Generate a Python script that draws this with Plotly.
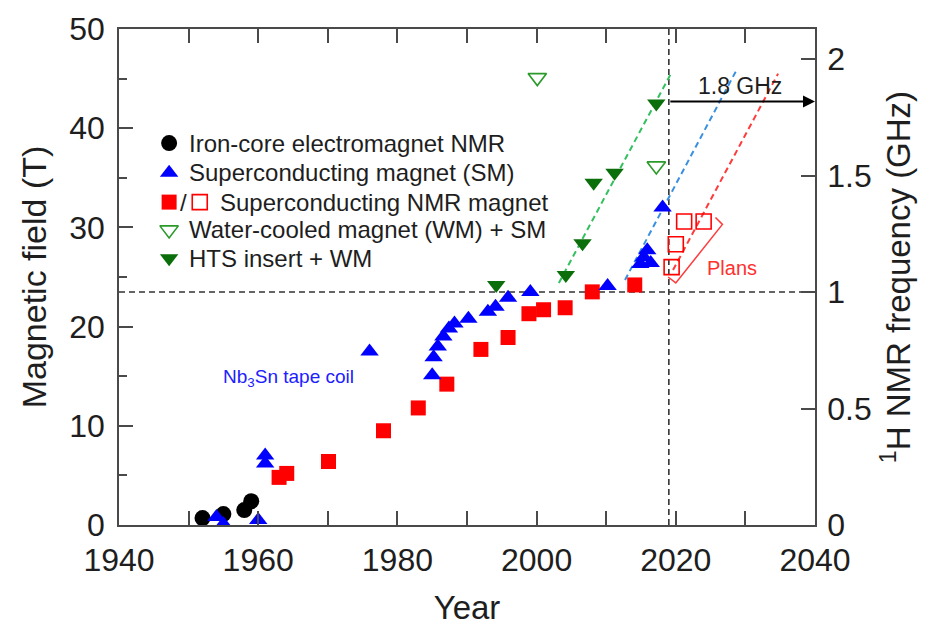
import plotly.graph_objects as go

# ---------------- data ----------------
iron_year = [1952, 1955, 1958, 1959]
iron_T = [0.7, 1.1, 1.5, 2.4]

sm_year = [1954, 1955, 1960, 1961, 1961, 1976, 1985.0, 1985.2, 1985.8, 1986.6, 1987.4,
           1988.2, 1990.2, 1993.0, 1994.1, 1995.9, 1999.1, 2010.2, 2014.9, 2015.4,
           2015.9, 2016.4, 2018.1]
sm_T = [0.8, 0.1, 0.5, 7.0, 6.2, 17.5, 15.1, 16.9, 18.0, 19.0, 19.8,
        20.3, 20.8, 21.5, 22.0, 22.9, 23.5, 24.1, 26.3, 27.0,
        27.7, 26.4, 32.0]

nmr_year = [1963.0, 1964.1, 1970.1, 1978.0, 1983.0, 1987.1, 1992.0, 1995.9, 1998.9,
            2001.0, 2004.1, 2008.0, 2014.1]
nmr_T = [4.8, 5.2, 6.4, 9.5, 11.8, 14.2, 17.7, 18.9, 21.3, 21.7, 21.9, 23.5, 24.2]

plan_year = [2019.4, 2020.0, 2021.2, 2024.0]
plan_T = [26.0, 28.3, 30.6, 30.6]

wm_year = [2000.1, 2017.2]
wm_T = [45.1, 36.2]

hts_year = [1994.2, 2004.2, 2006.6, 2008.2, 2011.2, 2017.2]
hts_T = [24.2, 25.2, 28.4, 34.5, 35.5, 42.5]

# trend (dashed) lines: [start, end]
green_trend_year = [2003.2, 2019.3]
green_trend_T = [24.4, 45.5]
blue_trend_year = [2012.7, 2028.6]
blue_trend_T = [24.7, 45.7]
red_trend_year = [2019.6, 2034.7]
red_trend_T = [25.7, 45.5]

# plans bracket
bracket_year = [2025.7, 2026.7, 2020.0, 2018.9]
bracket_T = [31.0, 30.3, 24.4, 25.0]

GHZ_T = 23.4875          # field for 1 GHz proton frequency
ref_year = 2019          # vertical reference line
arrow_T = 42.7           # 1.8 GHz arrow level

legend_labels = ["Iron-core electromagnet NMR",
                 "Superconducting magnet (SM)",
                 "Superconducting NMR magnet",
                 "Water-cooled magnet (WM) + SM",
                 "HTS insert + WM"]

x_ticks = [1940, 1960, 1980, 2000, 2020, 2040]
y_ticks = [0, 10, 20, 30, 40, 50]
ghz_ticks = [0, 0.5, 1, 1.5, 2]
ghz_ticktext = ["0", "0.5", "1", "1.5", "2"]

# ---------------- styles ----------------
FONT = "Liberation Sans, Arial, sans-serif"
TXT = "#1e1e1e"
AX = "#4a4a4a"
BLUE = "#0000ff"
RED = "#ff0000"
DKGREEN = "#0a6e0a"
LTGREEN = "#2a9a2a"

fig = go.Figure()

# reference dashed lines
fig.add_trace(go.Scatter(x=[1940, 2040], y=[GHZ_T, GHZ_T], mode="lines",
                         line=dict(color="#333", width=1.6, dash="6px,4px"),
                         hoverinfo="skip", showlegend=False))
fig.add_trace(go.Scatter(x=[ref_year, ref_year], y=[0, 50], mode="lines",
                         line=dict(color="#333", width=1.6, dash="6px,4px"),
                         hoverinfo="skip", showlegend=False))

# trend lines
for xs, ys, c in [(green_trend_year, green_trend_T, "#33c060"),
                  (blue_trend_year, blue_trend_T, "#3a90e0"),
                  (red_trend_year, red_trend_T, "#ff3b3b")]:
    fig.add_trace(go.Scatter(x=xs, y=ys, mode="lines",
                             line=dict(color=c, width=2, dash="6px,4px"),
                             hoverinfo="skip", showlegend=False))

# bracket
fig.add_trace(go.Scatter(x=bracket_year, y=bracket_T, mode="lines",
                         line=dict(color="#ff3b3b", width=1.5),
                         hoverinfo="skip", showlegend=False))

# data
fig.add_trace(go.Scatter(x=iron_year, y=iron_T, mode="markers",
                         marker=dict(symbol="circle", size=16, color="black"),
                         showlegend=False))
fig.add_trace(go.Scatter(x=nmr_year, y=nmr_T, mode="markers",
                         marker=dict(symbol="square", size=15, color=RED),
                         showlegend=False))
fig.add_trace(go.Scatter(x=plan_year, y=plan_T, mode="markers",
                         marker=dict(symbol="square-open", size=15, color=RED,
                                     line=dict(width=1.6)),
                         showlegend=False))
fig.add_trace(go.Scatter(x=sm_year, y=sm_T, mode="markers",
                         marker=dict(symbol="triangle-up", size=16, color=BLUE),
                         showlegend=False))
fig.add_trace(go.Scatter(x=hts_year, y=hts_T, mode="markers",
                         marker=dict(symbol="triangle-down", size=16, color=DKGREEN),
                         showlegend=False))
fig.add_trace(go.Scatter(x=wm_year, y=wm_T, mode="markers",
                         marker=dict(symbol="triangle-down-open", size=16, color=LTGREEN,
                                     line=dict(width=1.6)),
                         showlegend=False))

# right axis carrier
fig.add_trace(go.Scatter(x=[2040], y=[0], yaxis="y2", mode="markers",
                         marker=dict(opacity=0), hoverinfo="skip", showlegend=False))

# ---------------- custom legend (overlay axes in plot fractions) ----------------
leg_x = 0.072
leg_rows = [0.770, 0.710, 0.651, 0.595, 0.538]
leg_syms = [("circle", "black", 16), ("triangle-up", BLUE, 16), ("square", RED, 15),
            ("triangle-down-open", LTGREEN, 16), ("triangle-down", DKGREEN, 16)]
for (sym, col, sz), yy in zip(leg_syms, leg_rows):
    fig.add_trace(go.Scatter(x=[leg_x], y=[yy], xaxis="x3", yaxis="y3", mode="markers",
                             marker=dict(symbol=sym, size=sz, color=col,
                                         line=dict(width=1.6) if "open" in sym else None),
                             hoverinfo="skip", showlegend=False))
fig.add_trace(go.Scatter(x=[0.116], y=[leg_rows[2]], xaxis="x3", yaxis="y3", mode="markers",
                         marker=dict(symbol="square-open", size=15, color=RED, line=dict(width=1.6)),
                         hoverinfo="skip", showlegend=False))

annotations = []
for i, (lab, yy) in enumerate(zip(legend_labels, leg_rows)):
    xx = 0.142 if i == 2 else 0.097
    annotations.append(dict(x=xx, y=yy, xref="paper", yref="paper", text=lab,
                            showarrow=False, xanchor="left", yanchor="middle",
                            font=dict(family=FONT, size=24, color=TXT)))
annotations.append(dict(x=0.093, y=leg_rows[2], xref="paper", yref="paper", text="/",
                        showarrow=False, xanchor="center", yanchor="middle",
                        font=dict(family=FONT, size=24, color=TXT)))

# text annotations
annotations.append(dict(x=1964.4, y=14.8, xref="x", yref="y",
                        text="Nb<sub>3</sub>Sn tape coil", showarrow=False,
                        font=dict(family=FONT, size=19, color="#2020ff")))
annotations.append(dict(x=2028.1, y=25.9, xref="x", yref="y", text="Plans",
                        showarrow=False, font=dict(family=FONT, size=20, color="#ff3030")))
annotations.append(dict(x=2029.2, y=44.3, xref="x", yref="y", text="1.8 GHz",
                        showarrow=False, font=dict(family=FONT, size=23, color=TXT)))
# arrow
annotations.append(dict(x=2040, y=arrow_T, ax=ref_year, ay=arrow_T,
                        xref="x", yref="y", axref="x", ayref="y", text="",
                        showarrow=True, arrowhead=2, arrowsize=1.2, arrowwidth=2,
                        arrowcolor="black"))

axis_font = dict(family=FONT, size=32, color=TXT)

fig.update_layout(
    width=934, height=626,
    margin=dict(l=119, r=119, t=29, b=101, autoexpand=False),
    paper_bgcolor="white", plot_bgcolor="white",
    showlegend=False,
    annotations=annotations,
    xaxis=dict(range=[1940, 2040], tickvals=x_ticks, ticks="inside", ticklen=14,
               tickwidth=1.5, tickcolor=AX, automargin=False,
               minor=dict(dtick=10, tick0=1940, ticks="inside", ticklen=8,
                          tickwidth=1.5, tickcolor=AX),
               showline=True, linecolor=AX, linewidth=1.6, mirror="allticks",
               showgrid=False, zeroline=False, tickfont=axis_font,
               ticklabelstandoff=6,
               title=dict(text="Year", font=dict(family=FONT, size=33, color=TXT),
                          standoff=20)),
    yaxis=dict(range=[0, 50], tickvals=y_ticks, ticks="inside", ticklen=14,
               tickwidth=1.5, tickcolor=AX, automargin=False,
               minor=dict(dtick=5, tick0=0, ticks="inside", ticklen=8,
                          tickwidth=1.5, tickcolor=AX),
               showline=True, linecolor=AX, linewidth=1.6,
               showgrid=False, zeroline=False, tickfont=axis_font,
               ticklabelstandoff=6,
               title=dict(text="Magnetic field (T)",
                          font=dict(family=FONT, size=34, color=TXT), standoff=12)),
    yaxis2=dict(range=[0, 50 / GHZ_T], overlaying="y", side="right", anchor="x",
                tickvals=ghz_ticks, ticktext=ghz_ticktext, ticks="inside", ticklen=14,
                tickwidth=1.5, tickcolor=AX, showline=True, linecolor=AX, linewidth=1.6,
                showgrid=False, zeroline=False, tickfont=axis_font, automargin=False,
                ticklabelstandoff=4,
                title=dict(text="<sup>1</sup>H NMR frequency (GHz)",
                           font=dict(family=FONT, size=33, color=TXT), standoff=16)),
    xaxis3=dict(range=[0, 1], overlaying="x", anchor="y3", visible=False, fixedrange=True),
    yaxis3=dict(range=[0, 1], overlaying="y", anchor="x3", visible=False, fixedrange=True),
)

fig.write_html("out.html")
